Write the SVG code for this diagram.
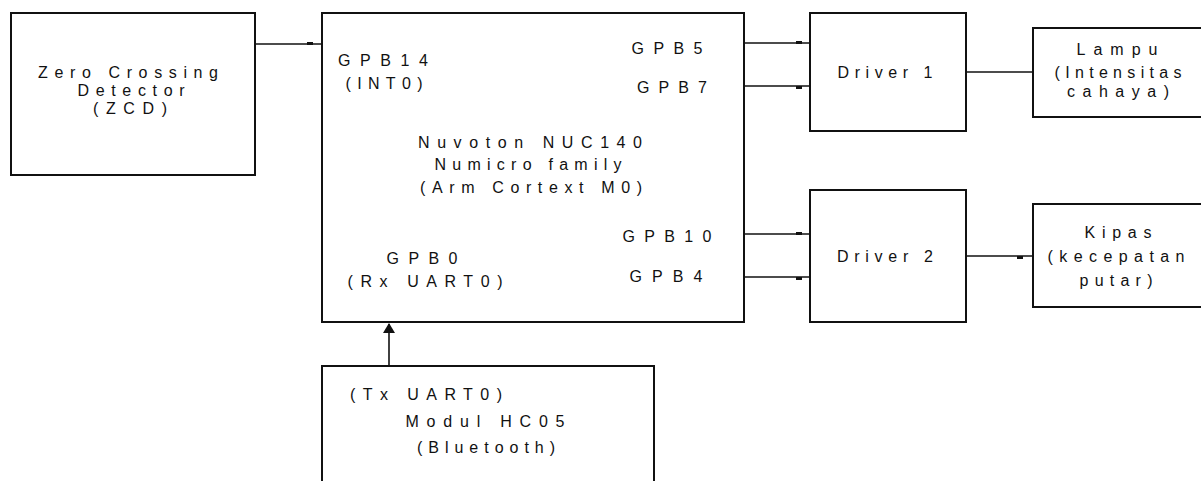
<svg xmlns="http://www.w3.org/2000/svg" width="1201" height="481" viewBox="0 0 1201 481">
<style>
.box{fill:#fff;stroke:#111;stroke-width:2}
.ln{stroke:#111;stroke-width:1.6;fill:none}
.dash{fill:#111}
text{font-family:"Liberation Sans",Arial,sans-serif;font-size:16px;fill:#111;text-anchor:middle}
</style>
<defs>
<marker id="ah" markerWidth="10" markerHeight="12" refX="9" refY="6" orient="auto" markerUnits="userSpaceOnUse" viewBox="0 0 10 12">
<path d="M0,0 L10,6 L0,12 Z" fill="#111"/>
</marker>
</defs>
<rect width="1201" height="481" fill="#fff"/>
<g id="connectors">
<line class="ln" x1="255" y1="44" x2="322" y2="44"/>
<rect class="dash" x="307" y="42" width="6" height="3"/>
<line class="ln" x1="744" y1="43" x2="810" y2="43"/>
<rect class="dash" x="796" y="41" width="6" height="3"/>
<line class="ln" x1="744" y1="86" x2="810" y2="86"/>
<rect class="dash" x="796" y="86" width="6" height="3"/>
<line class="ln" x1="744" y1="234" x2="810" y2="234"/>
<rect class="dash" x="796" y="232" width="6" height="3"/>
<line class="ln" x1="744" y1="277" x2="810" y2="277"/>
<rect class="dash" x="796" y="277" width="6" height="3"/>
<line class="ln" x1="966" y1="72" x2="1033" y2="72"/>
<line class="ln" x1="966" y1="256" x2="1033" y2="256"/>
<rect class="dash" x="1017" y="256" width="6" height="3"/>
<line class="ln" x1="389" y1="366" x2="389" y2="324" marker-end="url(#ah)"/>
</g>
<g id="zcd">
<rect class="box" x="11" y="13" width="244" height="162"/>
<text x="128" y="78" textLength="180" lengthAdjust="spacing">Zero Crossing</text>
<text x="131" y="96" textLength="107" lengthAdjust="spacing">Detector</text>
<text x="130" y="114" textLength="74" lengthAdjust="spacing">(ZCD)</text>
</g>
<g id="mcu">
<rect class="box" x="322" y="13" width="422" height="309"/>
<text x="383" y="66" textLength="90" lengthAdjust="spacing">GPB14</text>
<text x="384" y="89" textLength="77" lengthAdjust="spacing">(INT0)</text>
<text x="667" y="54" textLength="71" lengthAdjust="spacing">GPB5</text>
<text x="672" y="93" textLength="70" lengthAdjust="spacing">GPB7</text>
<text x="530" y="148" textLength="224" lengthAdjust="spacing">Nuvoton NUC140</text>
<text x="528" y="170" textLength="187" lengthAdjust="spacing">Numicro family</text>
<text x="531" y="193" textLength="222" lengthAdjust="spacing">(Arm Cortext M0)</text>
<text x="667" y="242" textLength="89" lengthAdjust="spacing">GPB10</text>
<text x="666" y="282" textLength="73" lengthAdjust="spacing">GPB4</text>
<text x="422" y="264" textLength="71" lengthAdjust="spacing">GPB0</text>
<text x="425" y="287" textLength="155" lengthAdjust="spacing">(Rx UART0)</text>
</g>
<g id="driver1">
<rect class="box" x="810" y="13" width="156" height="118"/>
<text x="885" y="78" textLength="95" lengthAdjust="spacing">Driver 1</text>
</g>
<g id="driver2">
<rect class="box" x="810" y="190" width="156" height="132"/>
<text x="885" y="262" textLength="96" lengthAdjust="spacing">Driver 2</text>
</g>
<g id="lampu">
<rect class="box" x="1033" y="28" width="170" height="89"/>
<text x="1117" y="55" textLength="81" lengthAdjust="spacing">Lampu</text>
<text x="1118" y="78" textLength="127" lengthAdjust="spacing">(Intensitas</text>
<text x="1118" y="97" textLength="102" lengthAdjust="spacing">cahaya)</text>
</g>
<g id="kipas">
<rect class="box" x="1033" y="204" width="170" height="103"/>
<text x="1118" y="238" textLength="67" lengthAdjust="spacing">Kipas</text>
<text x="1116" y="262" textLength="137" lengthAdjust="spacing">(kecepatan</text>
<text x="1116" y="286" textLength="73" lengthAdjust="spacing">putar)</text>
</g>
<g id="hc05">
<rect class="box" x="322" y="366" width="332" height="130"/>
<text x="426" y="400" textLength="152" lengthAdjust="spacing">(Tx UART0)</text>
<text x="485" y="427" textLength="159" lengthAdjust="spacing">Modul HC05</text>
<text x="486" y="453" textLength="138" lengthAdjust="spacing">(Bluetooth)</text>
</g>
</svg>
